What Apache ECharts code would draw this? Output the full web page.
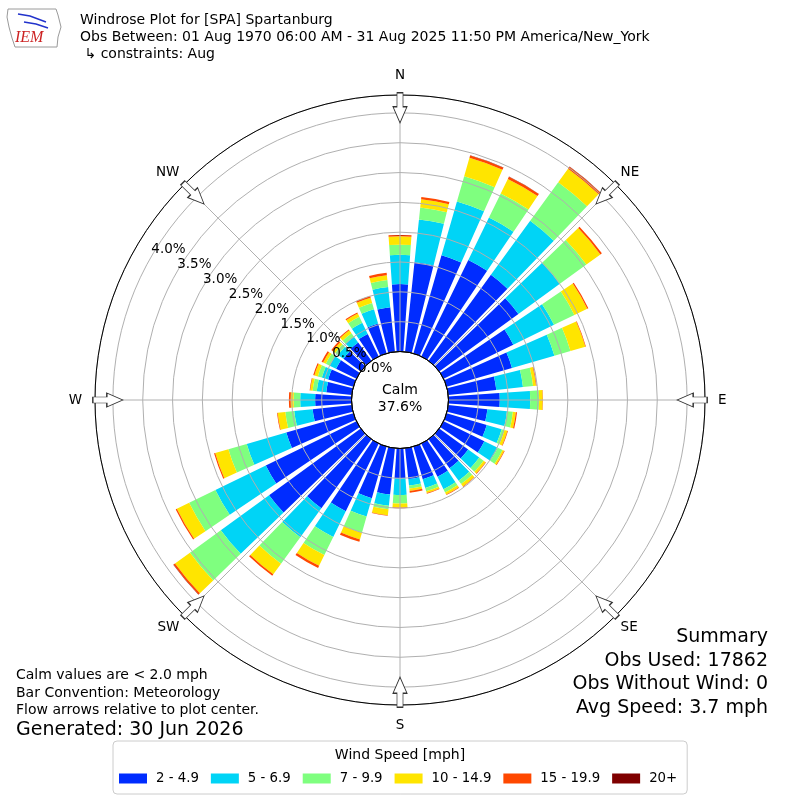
<!DOCTYPE html>
<html><head><meta charset="utf-8">
<script src="https://cdn.jsdelivr.net/npm/echarts@6/dist/echarts.min.js"></script>
<style>html,body{margin:0;padding:0;background:#fff}#c{width:800px;height:800px}</style>
</head><body><div id="c"></div>
<script>
// ---- data ----
const directions = [0,10,20,30,40,50,60,70,80,90,100,110,120,130,140,150,160,170,180,190,200,210,220,230,240,250,260,270,280,290,300,310,320,330,340,350];
const speedBins = ['2 - 4.9','5 - 6.9','7 - 9.9','10 - 14.9','15 - 19.9','20+'];
const binColors = ['#002cff','#00d4f6','#7fff7f','#ffe500','#ff4800','#7f0000'];
const bin2to5 = [1.13,1.51,1.71,1.80,1.78,1.64,1.30,1.14,0.81,0.86, 0.66,0.70,0.76,0.60,0.60,0.62,0.57,0.52,0.50, 0.78,0.90,1.26,1.43,1.90,1.69,1.17,0.66,0.61, 0.43,0.44,0.38,0.36,0.38,0.42,0.52,0.75];
const bin5to7 = [0.49,0.72,0.94,0.79,1.12,0.86,0.76,0.74,0.45,0.51, 0.33,0.26,0.25,0.23,0.26,0.23,0.15,0.11,0.28, 0.19,0.32,0.48,0.60,1.00,0.94,0.69,0.31,0.25, 0.16,0.11,0.12,0.11,0.12,0.21,0.25,0.34];
const bin7to10 = [0.17,0.20,0.44,0.45,0.80,0.55,0.38,0.28,0.17,0.15, 0.10,0.05,0.09,0.09,0.07,0.06,0.06,0.05,0.14, 0.06,0.28,0.34,0.55,0.64,0.49,0.32,0.15,0.11, 0.07,0.07,0.07,0.06,0.07,0.11,0.11,0.12];
const bin10to15 = [0.14,0.14,0.32,0.27,0.28,0.29,0.24,0.26,0.05,0.06, 0.05,0.05,0.03,0.04,0.05,0.04,0.03,0.04,0.07, 0.10,0.12,0.20,0.22,0.31,0.23,0.23,0.13,0.05, 0.04,0.06,0.05,0.05,0.06,0.06,0.09,0.08];
const bin15to20 = [0.025,0.04,0.04,0.04,0.04,0.03,0.02,0.01,0.01,0.005, 0.02,0.01,0.01,0.01,0.01,0.01,0.01,0.03,0.01, 0.01,0.04,0.04,0.03,0.03,0.02,0.02,0.01,0.03, 0.01,0.02,0.03,0.03,0.02,0.02,0.03,0.04];
const bin20plus = [0,0,0.005,0.005,0.005,0,0,0,0,0, 0,0,0,0,0,0,0,0,0, 0,0,0,0,0.005,0,0,0,0, 0,0,0,0,0,0,0,0];
const compassLabels = ['N','NE','E','SE','S','SW','W','NW'];
const arrowBearings = [0,45,90,135,180,225,270,315];
const radiusTicks = {min:0, max:4.3, interval:0.5};
const calmText = 'Calm\n37.6%';
const titleLines = ['Windrose Plot for [SPA] Spartanburg','Obs Between: 01 Aug 1970 06:00 AM - 31 Aug 2025 11:50 PM America/New_York',' \u21b3 constraints: Aug'];
const summaryLines = ['Summary','Obs Used: 17862','Obs Without Wind: 0','Avg Speed: 3.7 mph'];
const noteLines = ['Calm values are < 2.0 mph','Bar Convention: Meteorology','Flow arrows relative to plot center.'];
const generatedText = 'Generated: 30 Jun 2026';
const legendTitle = 'Wind Speed [mph]';

// ---- layout ----
const FONT = 'DejaVu Sans';
const C = [400, 400];
const R0 = 48.5, R1 = 305;
const binData = [bin2to5, bin5to7, bin7to10, bin10to15, bin15to20, bin20plus];
const arrowR = 4.085;

const chart = echarts.init(document.getElementById('c'));
const noAxis = {axisLine:{show:false}, axisTick:{show:false}, axisLabel:{show:false}, splitLine:{show:false}};

const option = {
  animation: false,
  backgroundColor: '#fff',
  polar: [
    {center: C, radius: [R0, R1]},
    {center: C, radius: [R0, R1]},
    {center: C, radius: [R0, R1]},
    {center: C, radius: [0, R0]},
    {center: C, radius: [R0, R1]}
  ],
  angleAxis: [
    Object.assign({polarIndex:0, type:'category', data: directions.map(String), startAngle:95, clockwise:true, boundaryGap:true}, noAxis),
    {polarIndex:1, type:'value', min:0, max:360, interval:45, startAngle:90, clockwise:true, z:5,
     axisLine:{show:true, lineStyle:{color:'#000', width:1}},
     axisTick:{show:false},
     splitLine:{show:true, lineStyle:{color:'#b0b0b0', width:1}},
     axisLabel:{show:true, margin:13, color:'#000', fontSize:13.5, fontFamily:FONT,
       formatter: v => { const k = Math.round(v/45) % 8; return k % 2 === 0 ? compassLabels[k] : ''; }}},
    Object.assign({polarIndex:2, type:'value', min:0, max:360, startAngle:150, clockwise:true, z:6}, noAxis),
    {polarIndex:3, type:'value', min:0, max:360, startAngle:90, z:6,
     axisLine:{show:true, lineStyle:{color:'#000', width:1}}, axisTick:{show:false}, axisLabel:{show:false}, splitLine:{show:false}},
    {polarIndex:4, type:'value', min:0, max:360, interval:45, startAngle:90, clockwise:true, z:6,
     axisLine:{show:false}, axisTick:{show:false}, splitLine:{show:false},
     axisLabel:{show:true, margin:7, color:'#000', fontSize:13.5, fontFamily:FONT,
       formatter: v => { const k = Math.round(v/45) % 8; return k % 2 === 1 ? compassLabels[k] : ''; }}}
  ],
  radiusAxis: [
    Object.assign({polarIndex:0, type:'value', min:radiusTicks.min, max:radiusTicks.max}, noAxis),
    {polarIndex:1, type:'value', min:radiusTicks.min, max:radiusTicks.max, interval:radiusTicks.interval, z:5,
     axisLine:{show:false}, axisTick:{show:false}, axisLabel:{show:false},
     splitLine:{show:true, lineStyle:{color:'#b0b0b0', width:1}}},
    {polarIndex:2, type:'value', min:radiusTicks.min, max:radiusTicks.max, interval:radiusTicks.interval, z:6,
     axisLine:{show:false}, axisTick:{show:false}, splitLine:{show:false},
     axisLabel:{show:true, showMaxLabel:false, margin:0, align:'left', verticalAlign:'bottom', color:'#000', fontSize:13.5, fontFamily:FONT,
       formatter: v => v > 4.05 ? '' : v.toFixed(1) + '%'}},
    Object.assign({polarIndex:3, type:'value', min:0, max:1}, noAxis),
    Object.assign({polarIndex:4, type:'value', min:radiusTicks.min, max:radiusTicks.max}, noAxis)
  ],
  legend: {
    data: speedBins, left: 113, top: 741, orient: 'horizontal',
    itemWidth: 28, itemHeight: 10, itemGap: 12, icon: 'rect',
    padding: [31, 10, 9, 6],
    borderColor: '#cccccc', borderWidth: 1, borderRadius: 4,
    textStyle: {fontSize: 13.3, fontFamily: FONT, color: '#000', padding: [0,0,0,4]}
  },
  series: speedBins.map((name, i) => ({
    type: 'bar', name: name, coordinateSystem: 'polar', polarIndex: 0, stack: 'wind',
    data: binData[i], barCategoryGap: '20%', z: 2,
    itemStyle: {color: binColors[i]}
  })).concat([{
    type: 'scatter', coordinateSystem: 'polar', polarIndex: 1, z: 10, silent: true,
    symbol: 'path://M4,0 L10,0 L10,14 L14,14 L7,30 L0,14 L4,14 Z',
    symbolSize: [14, 30],
    itemStyle: {color: '#ffffff', borderColor: '#333333', borderWidth: 1, opacity: 1},
    data: arrowBearings.map(a => ({value: [arrowR, a], symbolRotate: -a}))
  }]),
  graphic: [
    {type:'text', left: 80, top: 12, z: 20, style:{text: titleLines.join('\n'), font: '14px "DejaVu Sans"', fill:'#000', lineHeight: 17}},
    {type:'text', x: 400, y: 399, z: 20, style:{text: calmText, font: '14px "DejaVu Sans"', fill:'#000', textAlign:'center', textVerticalAlign:'middle', lineHeight: 17}},
    {type:'text', x: 768, y: 625.5, z: 20, style:{text: summaryLines.join('\n'), font: '19px "DejaVu Sans"', fill:'#000', textAlign:'right', lineHeight: 23.5}},
    {type:'text', x: 16, y: 667, z: 20, style:{text: noteLines.join('\n'), font: '14px "DejaVu Sans"', fill:'#000', lineHeight: 17.5}},
    {type:'text', x: 16, y: 721, z: 20, style:{text: generatedText, font: '19px "DejaVu Sans"', fill:'#000'}},
    {type:'text', x: 400, y: 755.5, z: 20, style:{text: legendTitle, font: '14px "DejaVu Sans"', fill:'#000', textAlign:'center', textVerticalAlign:'middle'}},
    {type:'polygon', z: 20, shape:{points:[[8,9],[56,9],[58,15],[61,27],[58,37],[57,47],[15,47],[12,38],[9,27],[7,17]]}, style:{fill:'none', stroke:'#9a9a9a', lineWidth:1}},
    {type:'polyline', z: 20, shape:{points:[[18,14],[30,16],[46,22]]}, style:{stroke:'#2233cc', lineWidth:1.5, fill:'none'}},
    {type:'polyline', z: 20, shape:{points:[[24,22],[36,24],[48,28]]}, style:{stroke:'#2233cc', lineWidth:1.5, fill:'none'}},
    {type:'text', x: 15, y: 30, z: 20, style:{text:'IEM', font:'italic 16px "Liberation Serif"', fill:'#cc2222'}}
  ]
};
chart.setOption(option);
</script>
</body></html>
